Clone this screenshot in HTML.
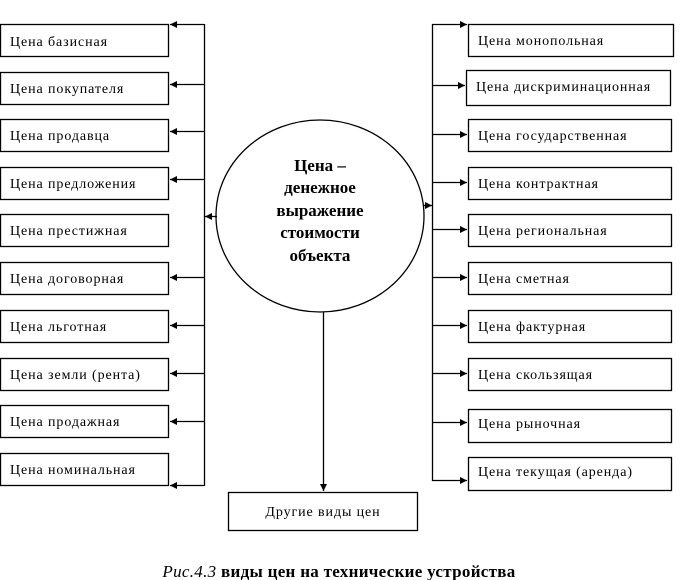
<!DOCTYPE html>
<html><head><meta charset="utf-8"><style>
html,body{margin:0;padding:0;background:#fff;}
svg{display:block;}
text{font-family:"Liberation Serif","DejaVu Serif",serif;fill:#000;}
</style></head><body>
<svg width="681" height="580" viewBox="0 0 681 580" xmlns="http://www.w3.org/2000/svg">
<defs>
<marker id="a" markerWidth="8" markerHeight="8" refX="7" refY="4" orient="auto" markerUnits="userSpaceOnUse"><path d="M0,0.5 L7,4 L0,7.5 z" fill="#000"/></marker>
</defs>
<g stroke="#000" stroke-width="1.3" fill="#fff">
<rect x="0.5" y="24.5" width="168" height="32"/>
<rect x="0.5" y="72.5" width="168" height="32"/>
<rect x="0.5" y="119.5" width="168" height="32"/>
<rect x="0.5" y="167.5" width="168" height="32"/>
<rect x="0.5" y="214.5" width="168" height="32"/>
<rect x="0.5" y="262.5" width="168" height="32"/>
<rect x="0.5" y="310.5" width="168" height="32"/>
<rect x="0.5" y="358.5" width="168" height="32"/>
<rect x="0.5" y="405.5" width="168" height="32"/>
<rect x="0.5" y="453.5" width="168" height="32"/>
<rect x="468.5" y="24.5" width="205" height="32"/>
<rect x="466.5" y="70.5" width="204" height="35"/>
<rect x="468.5" y="119.5" width="203" height="32"/>
<rect x="468.5" y="167.5" width="203" height="32"/>
<rect x="468.5" y="214.5" width="203" height="32"/>
<rect x="468.5" y="262.5" width="203" height="32"/>
<rect x="468.5" y="310.5" width="203" height="32"/>
<rect x="468.5" y="358.5" width="203" height="32"/>
<rect x="468.5" y="409.5" width="203" height="33"/>
<rect x="468.5" y="457.5" width="203" height="33"/>
<rect x="228.5" y="492.5" width="189" height="38"/>
<ellipse cx="320" cy="216" rx="104" ry="96"/>
</g>
<g stroke="#000" stroke-width="1.3" fill="none">
<path d="M204.5,24 V486"/>
<path d="M432.5,24 V481"/>
<path d="M323.5,312 V491" marker-end="url(#a)"/>
<g marker-end="url(#a)">
<path d="M204,24.5 H170"/>
<path d="M204,84.5 H170"/>
<path d="M204,131.5 H170"/>
<path d="M204,179.5 H170"/>
<path d="M217,216.5 H205"/>
<path d="M204,277.5 H170"/>
<path d="M204,325.5 H170"/>
<path d="M204,373.5 H170"/>
<path d="M204,421.5 H170"/>
<path d="M204,485.5 H170"/>
<path d="M432,24.5 H467"/>
<path d="M432,85.5 H465"/>
<path d="M432,134.5 H467"/>
<path d="M432,182.5 H467"/>
<path d="M423,205.5 H432"/>
<path d="M432,229.5 H467"/>
<path d="M432,277.5 H467"/>
<path d="M432,325.5 H467"/>
<path d="M432,373.5 H467"/>
<path d="M432,422.5 H467"/>
<path d="M432,480.5 H467"/>
</g>
</g>
<g font-size="14" letter-spacing="0.9">
<text x="10" y="46">Цена базисная</text>
<text x="10" y="93">Цена покупателя</text>
<text x="10" y="140">Цена продавца</text>
<text x="10" y="188">Цена предложения</text>
<text x="10" y="235">Цена престижная</text>
<text x="10" y="283">Цена договорная</text>
<text x="10" y="331">Цена льготная</text>
<text x="10" y="379">Цена земли (рента)</text>
<text x="10" y="426">Цена продажная</text>
<text x="10" y="474">Цена номинальная</text>
<text x="478" y="45">Цена монопольная</text>
<text x="476" y="91">Цена дискриминационная</text>
<text x="478" y="140">Цена государственная</text>
<text x="478" y="188">Цена контрактная</text>
<text x="478" y="235">Цена региональная</text>
<text x="478" y="283">Цена сметная</text>
<text x="478" y="331">Цена фактурная</text>
<text x="478" y="379">Цена скользящая</text>
<text x="478" y="428">Цена рыночная</text>
<text x="478" y="476">Цена текущая (аренда)</text>
<text x="323" y="516" text-anchor="middle">Другие виды цен</text>
</g>
<g font-size="17" font-weight="bold" text-anchor="middle">
<text x="320" y="171">Цена –</text>
<text x="320" y="193">денежное</text>
<text x="320" y="216">выражение</text>
<text x="320" y="238">стоимости</text>
<text x="320" y="261">объекта</text>
</g>
<text x="339" y="577" font-size="17" text-anchor="middle" letter-spacing="0.3"><tspan font-style="italic">Рис.4.3</tspan> <tspan font-weight="bold">виды цен на технические устройства</tspan></text>
</svg>
</body></html>
